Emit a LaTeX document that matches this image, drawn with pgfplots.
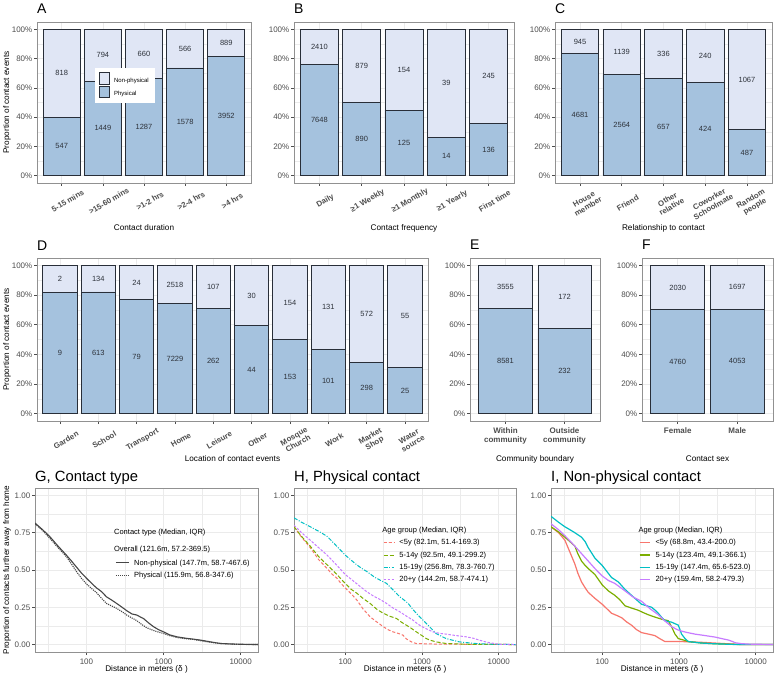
\documentclass[border=0pt]{standalone}
\usepackage{pgfplots}
\pgfplotsset{compat=1.18}
\usepackage{pgfplotstable}
\usepackage{fontspec}
\setmainfont{Liberation Sans}
\definecolor{phys}{RGB}{165,194,222}
\definecolor{nonp}{RGB}{224,230,245}
\definecolor{bord}{RGB}{40,46,56}
\definecolor{framec}{RGB}{145,145,145}
\definecolor{gridc}{RGB}{235,235,235}
\definecolor{tickc}{RGB}{77,77,77}
\definecolor{labc}{RGB}{45,50,58}
\definecolor{curvc}{RGB}{70,70,70}
\definecolor{cA}{HTML}{F8766D}
\definecolor{cB}{HTML}{7CAE00}
\definecolor{cC}{HTML}{00BFC4}
\definecolor{cD}{HTML}{C77CFF}
\newcommand{\fs}[2]{\fontsize{#1}{#2}\selectfont}

\pgfplotstableread{
x p t pc nc
0 0.4007 1 547 818
1 0.6460 1 1449 794
2 0.6610 1 1287 660
3 0.7360 1 1578 566
4 0.8164 1 3952 889
}\tabA
\pgfplotstableread{
x p t pc nc
0 0.7604 1 7648 2410
1 0.5031 1 890 879
2 0.4480 1 125 154
3 0.2642 1 14 39
4 0.3570 1 136 245
}\tabB
\pgfplotstableread{
x p t pc nc
0 0.8320 1 4681 945
1 0.6924 1 2564 1139
2 0.6616 1 657 336
3 0.6386 1 424 240
4 0.3134 1 487 1067
}\tabC
\pgfplotstableread{
x p t pc nc
0 0.8182 1 9 2
1 0.8206 1 613 134
2 0.7670 1 79 24
3 0.7417 1 7229 2518
4 0.7100 1 262 107
5 0.5946 1 44 30
6 0.4984 1 153 154
7 0.4353 1 101 131
8 0.3425 1 298 572
9 0.3125 1 25 55
}\tabD
\pgfplotstableread{
x p t pc nc
0 0.7071 1 8581 3555
1 0.5743 1 232 172
}\tabE
\pgfplotstableread{
x p t pc nc
0 0.7010 1 4760 2030
1 0.7049 1 4053 1697
}\tabF

\pgfplotsset{
  mybase/.style={
    scale only axis, anchor=north west,
    axis background/.style={fill=white},
    axis line style={framec, line width=0.8pt},
    tick style={tickc, line width=0.6pt},
    major tick length=3pt, minor tick length=0pt,
    tick align=outside, tick pos=left,
    grid style={gridc, line width=0.6pt},
    minor grid style={gridc, line width=0.35pt},
    yticklabel style={font=\fs{8}{9}, text=tickc, inner sep=1.5pt},
    xticklabel style={font=\fs{8}{9}, text=tickc},
    xlabel style={font=\fs{8.2}{9}, at={(axis description cs:0.5,0)}, anchor=center},
    ylabel style={font=\fs{8.2}{9}, anchor=center},
    title style={at={(axis description cs:0,1)}, anchor=base west, inner sep=0pt},
  },
  barax/.style={mybase, ymin=-0.05, ymax=1.05, xmin=-0.6,
    ytick={0,0.2,0.4,0.6,0.8,1}, yticklabels={0\%,20\%,40\%,60\%,80\%,100\%},
    minor ytick={0.1,0.3,0.5,0.7,0.9},
    ymajorgrids, yminorgrids, xmajorgrids,
    title style={font=\fs{14}{14}, yshift=2pt},
  },
  rotlab/.style={xticklabel style={font=\bfseries\fs{7.8}{8.3}, xshift=6pt, yshift=-#1, rotate=30, anchor=center, align=center}},
  flatlab/.style={xticklabel style={font=\bfseries\fs{8}{9}, anchor=north, align=center}},
  nbar/.style={ybar, bar width=0.9, bar shift=0pt, fill=nonp, draw=bord, line width=0.9pt,
    legend image code/.code={\draw[fill=nonp, draw=bord, line width=0.9pt] (0pt,-3.5pt) rectangle (10pt,8pt);}},
  pbar/.style={ybar, bar width=0.9, bar shift=0pt, fill=phys, draw=bord, line width=0.9pt,
    legend image code/.code={\draw[fill=phys, draw=bord, line width=0.9pt] (0pt,-3.5pt) rectangle (10pt,8pt);}},
  cnt/.style={only marks, mark=none, forget plot, nodes near coords, point meta=explicit symbolic,
    every node near coord/.append style={anchor=center, font=\fs{7.5}{8}, text=labc, inner sep=0pt}},
}

\begin{document}
\begin{tikzpicture}
\useasboundingbox (0,0) rectangle (776pt,-676pt);

% ---------- A ----------
\begin{axis}[barax, rotlab=15pt, at={(37pt,-22pt)}, width=214pt, height=161pt, xmax=4.6,
  xtick={0,...,4}, xticklabels={5-15 mins,>15-60 mins,>1-2 hrs,>2-4 hrs,>4 hrs},
  title={A}, xlabel={Contact duration}, xlabel style={yshift=-45pt},
  ylabel={Proportion of contact events}, ylabel style={at={(axis description cs:-0.14,0.5)}},
  legend style={at={(0.271,0.714)}, anchor=north west, draw=none, fill=white, font=\fs{6}{7},
    inner xsep=4pt, inner ysep=4pt, row sep=0pt, column sep=2pt},
  legend cell align=left]
\addplot[nbar] table[x=x,y=t]{\tabA}; \addlegendentry{Non-physical}
\addplot[pbar] table[x=x,y=p]{\tabA}; \addlegendentry{Physical}
\addplot[cnt] table[x=x, y expr=\thisrow{p}/2, meta=pc]{\tabA};
\addplot[cnt] table[x=x, y expr=(1+\thisrow{p})/2, meta=nc]{\tabA};
\end{axis}

% ---------- B ----------
\begin{axis}[barax, rotlab=15pt, at={(294pt,-22pt)}, width=220pt, height=161pt, xmax=4.6,
  xtick={0,...,4}, xticklabels={Daily,≥1 Weekly,≥1 Monthly,≥1 Yearly,First time},
  title={B}, xlabel={Contact frequency}, xlabel style={yshift=-45pt}]
\addplot[nbar] table[x=x,y=t]{\tabB};
\addplot[pbar] table[x=x,y=p]{\tabB};
\addplot[cnt] table[x=x, y expr=\thisrow{p}/2, meta=pc]{\tabB};
\addplot[cnt] table[x=x, y expr=(1+\thisrow{p})/2, meta=nc]{\tabB};
\end{axis}

% ---------- C ----------
\begin{axis}[barax, rotlab=17pt, at={(555pt,-22pt)}, width=217pt, height=161pt, xmax=4.6,
  xtick={0,...,4}, xticklabels={{House\\member},Friend,{Other\\relative},{Coworker\\Schoolmate},{Random\\people}},
  title={C}, xlabel={Relationship to contact}, xlabel style={yshift=-45pt}]
\addplot[nbar] table[x=x,y=t]{\tabC};
\addplot[pbar] table[x=x,y=p]{\tabC};
\addplot[cnt] table[x=x, y expr=\thisrow{p}/2, meta=pc]{\tabC};
\addplot[cnt] table[x=x, y expr=(1+\thisrow{p})/2, meta=nc]{\tabC};
\end{axis}

% ---------- D ----------
\begin{axis}[barax, rotlab=16pt, at={(37pt,-258pt)}, width=391pt, height=163pt, xmax=9.6,
  xtick={0,...,9}, xticklabels={Garden,School,Transport,Home,Leisure,Other,{Mosque\\Church},Work,{Market\\Shop},{Water\\source}},
  title={D}, xlabel={Location of contact events}, xlabel style={yshift=-38pt},
  ylabel={Proportion of contact events}, ylabel style={at={(axis description cs:-0.0767,0.5)}}]
\addplot[nbar] table[x=x,y=t]{\tabD};
\addplot[pbar] table[x=x,y=p]{\tabD};
\addplot[cnt] table[x=x, y expr=\thisrow{p}/2, meta=pc]{\tabD};
\addplot[cnt] table[x=x, y expr=(1+\thisrow{p})/2, meta=nc]{\tabD};
\end{axis}

% ---------- E ----------
\begin{axis}[barax, flatlab, at={(470pt,-258pt)}, width=130pt, height=163pt, xmax=1.6,
  xtick={0,1}, xticklabels={{Within\\community},{Outside\\community}},
  title={E}, xlabel={Community boundary}, xlabel style={yshift=-38pt}]
\addplot[nbar] table[x=x,y=t]{\tabE};
\addplot[pbar] table[x=x,y=p]{\tabE};
\addplot[cnt] table[x=x, y expr=\thisrow{p}/2, meta=pc]{\tabE};
\addplot[cnt] table[x=x, y expr=(1+\thisrow{p})/2, meta=nc]{\tabE};
\end{axis}

% ---------- F ----------
\begin{axis}[barax, flatlab, at={(642pt,-258pt)}, width=131pt, height=163pt, xmax=1.6,
  xtick={0,1}, xticklabels={Female,Male},
  title={F}, xlabel={Contact sex}, xlabel style={yshift=-38pt}]
\addplot[nbar] table[x=x,y=t]{\tabF};
\addplot[pbar] table[x=x,y=p]{\tabF};
\addplot[cnt] table[x=x, y expr=\thisrow{p}/2, meta=pc]{\tabF};
\addplot[cnt] table[x=x, y expr=(1+\thisrow{p})/2, meta=nc]{\tabF};
\end{axis}

% ---------- G ----------
\begin{axis}[xmode=log, mybase, at={(35pt,-488pt)}, width=223pt, height=164pt,
  xmin=21.5, xmax=16800, ymin=-0.05, ymax=1.05,
  xtick={100,1000,10000}, xticklabels={100,1000,10000},
  minor xtick={31.62,316.2,3162},
  ytick={0,0.25,0.5,0.75,1}, yticklabels={0.00,0.25,0.50,0.75,1.00},
  minor ytick={0.125,0.375,0.625,0.875},
  xmajorgrids, xminorgrids, ymajorgrids, yminorgrids,
  title style={font=\fs{14.8}{15}, yshift=1pt},
  xlabel={Distance in meters (δ )}, xlabel style={yshift=-17pt},
  title={G, Contact type},
  ylabel={Proportion of contacts further away from home}, ylabel style={at={(axis description cs:-0.1256,0.5)}},
  legend cell align=left,
  legend style={at={(0.359,0.76)}, anchor=north west, draw=none, fill=none, font=\fs{7.5}{8}, inner sep=0pt, row sep=1.3pt, column sep=3pt},
  legend image post style={xscale=0.75}]
\addlegendimage{empty legend}\addlegendentry{\hspace*{-20pt}Contact type (Median, IQR)}
\addlegendimage{empty legend}\addlegendentry{\hspace*{-20pt}\rule{0pt}{9.5pt}Overall (121.6m, 57.2-369.5)}
\addplot[curvc, line width=1.1pt] coordinates {(21.5,0.815)(27,0.77)(33.2,0.726)(42,0.665)(54.8,0.60)(64,0.56)(74.1,0.52)(86,0.48)(100,0.445)(117,0.41)(135,0.38)(157,0.355)(182,0.32)(210,0.30)(246,0.276)(290,0.25)(333,0.227)(390,0.205)(450,0.198)(500,0.185)(548,0.175)(640,0.145)(740,0.12)(860,0.10)(1000,0.085)(1200,0.065)(1490,0.052)(1900,0.043)(2460,0.036)(3000,0.03)(3680,0.022)(4500,0.014)(5500,0.007)(7500,0.004)(10000,0.002)(16800,0)};
\addlegendentry{\rule{0pt}{7.5pt}Non-physical (147.7m, 58.7-467.6)}
\addplot[curvc, line width=1.1pt, densely dotted] coordinates {(21.5,0.81)(27,0.765)(33.2,0.715)(42,0.655)(54.8,0.59)(64,0.54)(74.1,0.49)(86,0.445)(100,0.407)(117,0.375)(135,0.348)(157,0.31)(182,0.276)(210,0.26)(246,0.243)(290,0.22)(333,0.198)(390,0.178)(450,0.16)(520,0.135)(608,0.112)(780,0.09)(1000,0.074)(1200,0.06)(1490,0.047)(1900,0.04)(2460,0.034)(3000,0.026)(3680,0.018)(4500,0.012)(5500,0.007)(7500,0.003)(10000,0.001)(16800,0)};
\addlegendentry{Physical (115.9m, 56.8-347.6)}
\end{axis}

% ---------- H ----------
\begin{axis}[xmode=log, mybase, at={(294pt,-488pt)}, width=222pt, height=164pt,
  xmin=21.5, xmax=16800, ymin=-0.05, ymax=1.05,
  xtick={100,1000,10000}, xticklabels={100,1000,10000},
  minor xtick={31.62,316.2,3162},
  ytick={0,0.25,0.5,0.75,1}, yticklabels={0.00,0.25,0.50,0.75,1.00},
  minor ytick={0.125,0.375,0.625,0.875},
  xmajorgrids, xminorgrids, ymajorgrids, yminorgrids,
  title style={font=\fs{14.8}{15}, yshift=1pt},
  xlabel={Distance in meters (δ )}, xlabel style={yshift=-17pt},
  title={H, Physical contact},
  legend cell align=left,
  legend style={at={(0.401,0.775)}, anchor=north west, draw=none, fill=none, font=\fs{7.5}{8}, inner sep=0pt, row sep=1.3pt, column sep=3pt},
  legend image post style={xscale=0.6}]
\addlegendimage{empty legend}\addlegendentry{\hspace*{-17pt}Age group (Median, IQR)}
\addplot[cA, line width=1pt, dash pattern=on 3pt off 2pt] coordinates {(21.5,0.79)(27,0.72)(35,0.65)(45,0.57)(58,0.51)(68,0.47)(78,0.445)(88,0.41)(100,0.38)(120,0.34)(141,0.30)(170,0.24)(211,0.186)(260,0.15)(313,0.12)(360,0.10)(421,0.085)(490,0.075)(566,0.063)(620,0.04)(660,0.03)(750,0.015)(845,0.007)(1500,0.003)(16800,0)};
\addlegendentry{<5y (82.1m, 51.4-169.3)}
\addplot[cB, line width=1pt, dash pattern=on 4pt off 2pt] coordinates {(21.5,0.79)(27,0.725)(35,0.66)(45,0.59)(58,0.535)(68,0.50)(78,0.47)(88,0.44)(100,0.41)(120,0.37)(141,0.345)(170,0.31)(211,0.276)(260,0.235)(313,0.21)(380,0.19)(466,0.175)(540,0.15)(626,0.13)(720,0.11)(845,0.085)(1000,0.06)(1138,0.04)(1300,0.028)(1530,0.018)(2060,0.007)(4000,0.002)(16800,0)};
\addlegendentry{5-14y (92.5m, 49.1-299.2)}
\addplot[cC, line width=1pt, dash pattern=on 4pt off 1.5pt on 1pt off 1.5pt] coordinates {(21.5,0.85)(27,0.82)(35,0.79)(45,0.76)(58,0.726)(68,0.69)(78,0.658)(88,0.63)(100,0.60)(120,0.565)(141,0.535)(165,0.51)(191,0.49)(244,0.45)(290,0.43)(345,0.41)(421,0.366)(514,0.32)(580,0.30)(660,0.276)(750,0.24)(845,0.209)(1030,0.164)(1257,0.119)(1530,0.074)(1800,0.055)(2060,0.04)(3060,0.018)(5000,0.007)(8300,0.002)(16800,0)};
\addlegendentry{15-19y (256.8m, 78.3-760.7)}
\addplot[cD, line width=1pt, dash pattern=on 2.5pt off 1.5pt] coordinates {(21.5,0.80)(27,0.75)(35,0.70)(45,0.65)(58,0.60)(75,0.54)(100,0.47)(125,0.43)(156,0.39)(190,0.355)(232,0.326)(290,0.30)(345,0.276)(420,0.245)(514,0.22)(630,0.19)(763,0.164)(870,0.14)(1000,0.12)(1200,0.10)(1390,0.085)(1700,0.075)(2060,0.07)(2800,0.06)(3750,0.052)(4700,0.042)(5560,0.03)(6500,0.02)(7500,0.013)(10100,0.002)(16800,0)};
\addlegendentry{20+y (144.2m, 58.7-474.1)}
\end{axis}

% ---------- I ----------
\begin{axis}[xmode=log, mybase, at={(551pt,-488pt)}, width=222pt, height=164pt,
  xmin=21.5, xmax=16800, ymin=-0.05, ymax=1.05,
  xtick={100,1000,10000}, xticklabels={100,1000,10000},
  minor xtick={31.62,316.2,3162},
  ytick={0,0.25,0.5,0.75,1}, yticklabels={0.00,0.25,0.50,0.75,1.00},
  minor ytick={0.125,0.375,0.625,0.875},
  xmajorgrids, xminorgrids, ymajorgrids, yminorgrids,
  title style={font=\fs{14.8}{15}, yshift=1pt},
  xlabel={Distance in meters (δ )}, xlabel style={yshift=-17pt},
  title={I, Non-physical contact},
  legend cell align=left,
  legend style={at={(0.396,0.775)}, anchor=north west, draw=none, fill=none, font=\fs{7.5}{8}, inner sep=0pt, row sep=1.3pt, column sep=3pt},
  legend image post style={xscale=0.6}]
\addlegendimage{empty legend}\addlegendentry{\hspace*{-17pt}Age group (Median, IQR)}
\addplot[cA, line width=1.2pt] coordinates {(21.5,0.79)(27,0.75)(32.6,0.70)(37.9,0.62)(44,0.54)(48,0.48)(53.7,0.42)(60,0.38)(65.7,0.35)(80.2,0.31)(100,0.27)(115,0.24)(132,0.21)(155,0.195)(179,0.18)(210,0.15)(241,0.13)(280,0.10)(326,0.08)(400,0.07)(486,0.06)(560,0.04)(657,0.02)(1081,0.02)(1978,0.015)(2958,0.01)(4424,0.005)(6618,0)(16800,0)};
\addlegendentry{<5y (68.8m, 43.4-200.0)}
\addplot[cB, line width=1.2pt] coordinates {(21.5,0.79)(27,0.755)(32.6,0.72)(38,0.69)(44,0.66)(48,0.61)(53.7,0.56)(60,0.53)(65.7,0.51)(80.2,0.47)(100,0.40)(120,0.36)(146,0.33)(170,0.30)(198,0.26)(240,0.245)(295,0.23)(340,0.215)(398,0.20)(480,0.185)(595,0.17)(725,0.16)(800,0.12)(887,0.07)(980,0.04)(1150,0.03)(1322,0.02)(1978,0.01)(2958,0.005)(6618,0)(16800,0)};
\addlegendentry{5-14y (123.4m, 49.1-366.1)}
\addplot[cC, line width=1.2pt] coordinates {(21.5,0.86)(27,0.82)(32.6,0.79)(38,0.77)(44,0.75)(53.7,0.72)(60,0.69)(65.7,0.65)(80.2,0.58)(100,0.53)(115,0.49)(132,0.45)(162,0.42)(198,0.37)(241,0.33)(280,0.30)(326,0.27)(380,0.26)(440,0.25)(490,0.23)(537,0.21)(600,0.18)(657,0.16)(802,0.15)(980,0.13)(1081,0.07)(1200,0.04)(1322,0.02)(1978,0.01)(2958,0.005)(5000,0.001)(16800,0)};
\addlegendentry{15-19y (147.4m, 65.6-523.0)}
\addplot[cD, line width=1.2pt] coordinates {(21.5,0.81)(27,0.77)(32.6,0.73)(38,0.695)(44,0.66)(53.7,0.61)(65.7,0.56)(80.2,0.51)(100,0.46)(120,0.43)(146,0.41)(170,0.385)(198,0.36)(250,0.32)(326,0.29)(420,0.24)(537,0.20)(650,0.16)(802,0.12)(950,0.10)(1081,0.09)(1300,0.08)(1617,0.07)(2200,0.06)(2958,0.05)(3600,0.04)(4424,0.03)(5000,0.02)(5412,0.012)(6500,0.006)(8094,0.003)(16800,0)};
\addlegendentry{20+y (159.4m, 58.2-479.3)}
\end{axis}
\end{tikzpicture}
\end{document}
